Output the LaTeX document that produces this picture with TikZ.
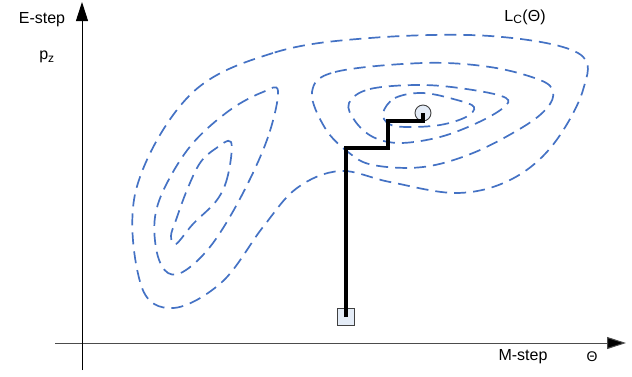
\documentclass[tikz,border=0pt]{standalone}
\usepackage{fontspec}
\setmainfont{Liberation Sans}
\usetikzlibrary{arrows.meta}
\definecolor{contour}{RGB}{68,114,196}
\definecolor{markfill}{RGB}{228,236,247}
\tikzset{
  lvl/.style={draw=contour, line width=1.7pt, dash pattern=on 12pt off 7pt},
  axisline/.style={line width=1pt, -{Triangle[length=19pt,width=12pt]}},
  lbl/.style={font=\fontsize{16}{18}\selectfont, inner sep=0pt},
  stair/.style={line width=3.3pt, black},
  marker/.style={draw=black!75, fill=markfill, line width=0.9pt, inner sep=0pt}
}
\begin{document}
\begin{tikzpicture}[x=1pt,y=-1pt]
\useasboundingbox (0,0) rectangle (632,376);
% axes
\coordinate (xs) at (55,343);
\coordinate (xe) at (626,343);
\coordinate (ys) at (82,370);
\coordinate (ye) at (82,2);
\draw[axisline, draw=black!70, -{Triangle[length=19pt,width=12pt,fill=black]}] (xs) -- (xe);
\draw[axisline] (ys) -- (ye);
% labels
\node[lbl] (estep) at (42,20) {E-step};
\node[lbl] (pz) at (47,57) {p\textsubscript{\fontsize{12}{13}\selectfont z}};
\node[lbl] (lc) at (525,17) {L\textsubscript{\fontsize{12}{13}\selectfont C}(Θ)};
\node[lbl] (mstep) at (523,357) {M-step};
\node[lbl, font=\fontsize{14}{15}\selectfont] (theta) at (592,357) {Θ};
% outer contour
\draw[lvl] plot[smooth cycle, tension=0.6] coordinates {
 (370,38) (273,53) (190,95) (136,190) (141,285) (173,308) (222,282)
 (263,227) (297,188) (340,171) (390,182) (457,193) (510,180) (552,146)
 (583,90) (578,53) (490,36)};
% left contours
\draw[lvl] plot[smooth cycle, tension=0.6] coordinates {
 (278,91) (268,137) (243,193) (213,243) (186,270) (168,273) (157,253)
 (155,217) (167,183) (193,143) (230,110) (263,92)};
\draw[lvl] plot[smooth cycle, tension=0.6] coordinates {
 (231,142) (228,175) (217,200) (193,224) (176,244) (171,236) (176,220)
 (187,190) (200,163) (215,149)};
% right contours
\draw[lvl] plot[smooth cycle, tension=0.6] coordinates {
 (312,92) (335,72) (423,63) (490,67) (540,80) (553,92) (547,108)
 (523,127) (473,153) (423,167) (373,165) (348,152) (325,128)};
\draw[lvl] plot[smooth cycle, tension=0.6] coordinates {
 (349,103) (370,89) (423,85) (473,90) (506,98) (503,108) (477,123)
 (440,137) (400,143) (373,137) (355,121)};
\draw[lvl] plot[smooth cycle, tension=0.6] coordinates {
 (383,113) (395,98) (423,93) (457,100) (474,107) (466,117) (440,125)
 (407,127) (389,124)};
% markers
\node[marker, minimum size=17pt] (sq) at (346,317) {};
\node[marker, circle, minimum size=16pt] (opt) at (423,113) {};
% staircase
\coordinate (s1) at (346,148);
\coordinate (s2) at (388,148);
\coordinate (s3) at (388,121);
\coordinate (s4) at (423,121);
\draw[stair] (sq.center) -- (s1) -- (s2) -- (s3) -- (s4) -- (opt.center);
\end{tikzpicture}
\end{document}
